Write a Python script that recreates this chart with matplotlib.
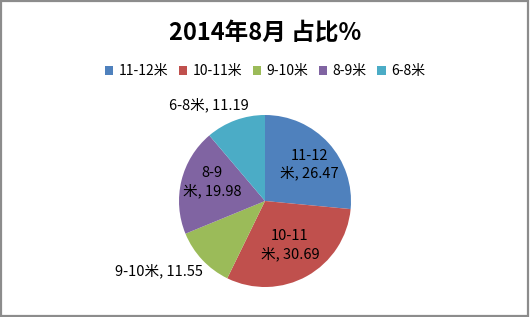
import numpy as np
import matplotlib
matplotlib.use("Agg")
import matplotlib.pyplot as plt
from matplotlib.patches import Rectangle

plt.rcParams['font.family'] = ['Noto Sans CJK SC', 'DejaVu Sans']

# ---- data ----
categories = ["11-12米", "10-11米", "9-10米", "8-9米", "6-8米"]
values = [26.47, 30.69, 11.55, 19.98, 11.19]
label_texts = ["11-12\n米, 26.47", "10-11\n米, 30.69", "9-10米, 11.55", "8-9\n米, 19.98", "6-8米, 11.19"]
colors = ["#4F81BD", "#C0504D", "#9BBB59", "#8064A2", "#4BACC6"]
title = "2014年8月 占比%"

# label placement (radius factor, angle nudge in degrees)
label_r = [0.67, 0.59, 1.48, 0.65, 1.29]
label_nudge = [-3, 0, -10, -6, 10]

W, H = 530, 317
fig = plt.figure(figsize=(W / 100, H / 100), dpi=100)
fig.patch.set_facecolor("white")

# pie centre (265, 201) px, radius 86 px
cx, cy, r = 265, 201, 86
ax = fig.add_axes([(cx - r) / W, (H - cy - r) / H, 2 * r / W, 2 * r / H])
wedges, _ = ax.pie(values, colors=colors, startangle=90, counterclock=False,
                   radius=1.0, wedgeprops=dict(linewidth=0))
ax.set_xlim(-1, 1)
ax.set_ylim(-1, 1)
ax.set_aspect("equal")
ax.axis("off")

for w, txt, lr, nd in zip(wedges, label_texts, label_r, label_nudge):
    mid = np.deg2rad((w.theta1 + w.theta2) / 2 + nd)
    ax.text(lr * np.cos(mid), lr * np.sin(mid), txt, ha="center", va="center",
            fontsize=10.5, color="#000000", linespacing=1.25, clip_on=False)

fig.text(0.5, 1 - 33 / H, title, ha="center", va="center",
         fontsize=17, fontweight="bold", color="#000000")

handles = [Rectangle((0, 0), 1, 1, facecolor=c, edgecolor="none") for c in colors]
fig.legend(handles, categories, loc="center", bbox_to_anchor=(0.5, 1 - 71 / H),
           ncol=5, frameon=False, fontsize=10, handlelength=0.6, handleheight=0.6,
           handletextpad=0.4, columnspacing=0.75)

# chart border
fig.add_artist(Rectangle((0.002, 0.004), 0.994, 0.992, transform=fig.transFigure,
                         fill=False, edgecolor="#8C8C8C", linewidth=1.6))

fig.savefig("out.png", dpi=100, facecolor="white")
